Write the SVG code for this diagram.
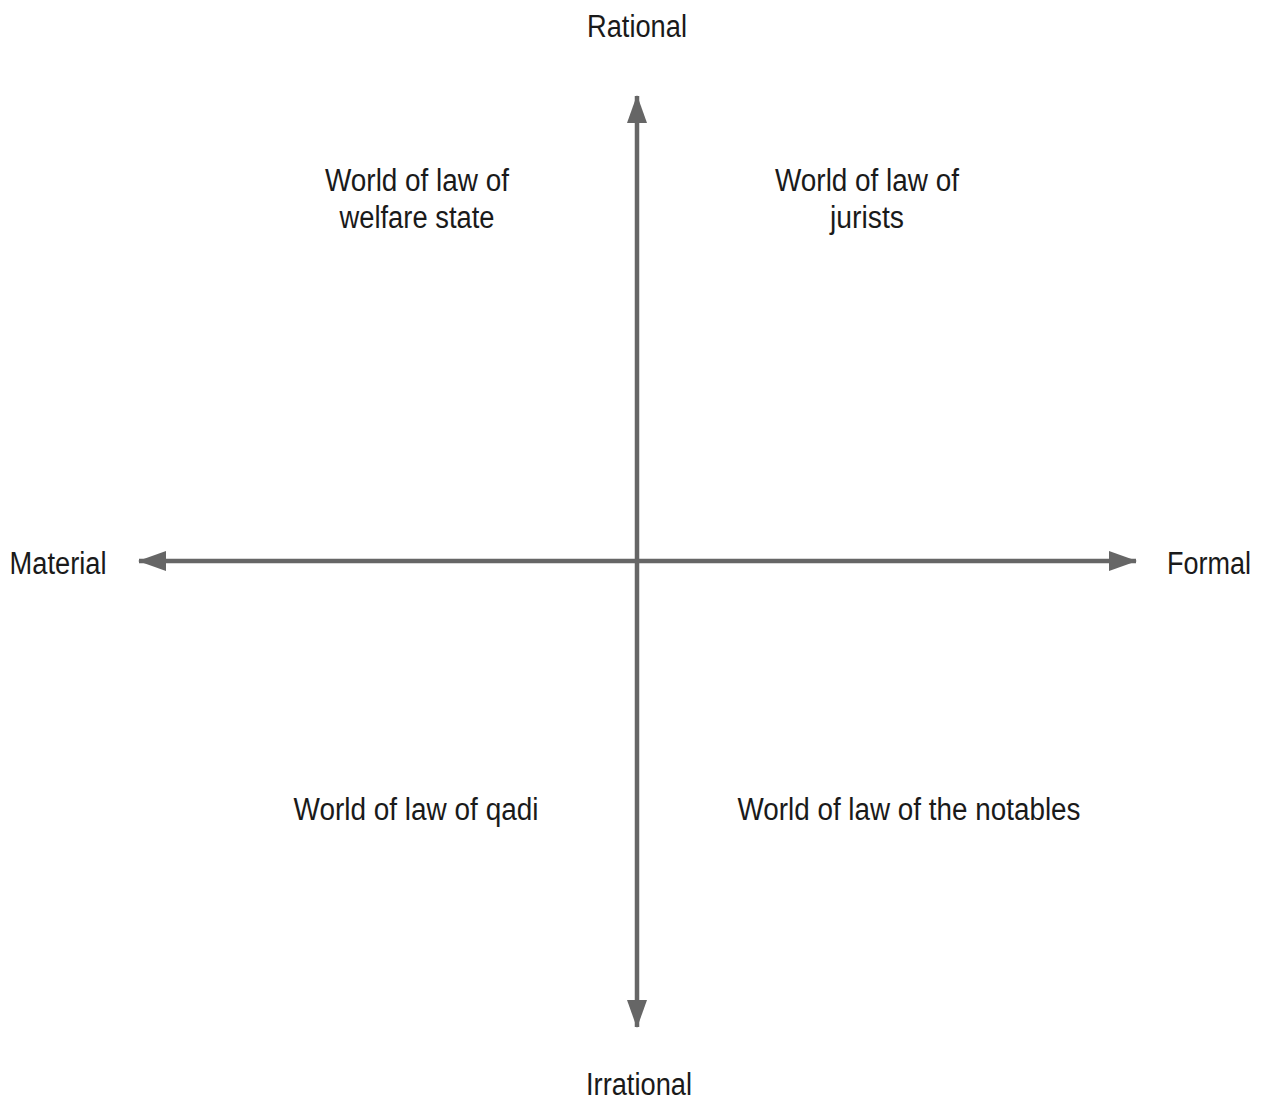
<svg xmlns="http://www.w3.org/2000/svg" width="1265" height="1103" viewBox="0 0 1265 1103">
<style>
text{font-family:"Liberation Sans",Arial,sans-serif;font-size:31px;fill:#1a1a1a;text-anchor:middle}
.axis{stroke:#666;stroke-width:4.5;fill:none}
</style>
<defs>
<marker id="ah" viewBox="0 0 28 20" refX="27" refY="10" markerWidth="28" markerHeight="20" markerUnits="userSpaceOnUse" orient="auto-start-reverse">
<path d="M0,0 L28,10 L0,20 Z" fill="#666"/>
</marker>
</defs>
<rect width="1265" height="1103" fill="#fff"/>
<g id="connectors">
<line class="axis" x1="637" y1="96" x2="637" y2="1027" marker-start="url(#ah)" marker-end="url(#ah)"/>
<line class="axis" x1="139" y1="561" x2="1136" y2="561" marker-start="url(#ah)" marker-end="url(#ah)"/>
</g>
<g id="rational"><text x="637" y="37" textLength="100" lengthAdjust="spacingAndGlyphs">Rational</text></g>
<g id="irrational"><text x="639" y="1095" textLength="106" lengthAdjust="spacingAndGlyphs">Irrational</text></g>
<g id="material"><text x="58" y="574" textLength="97" lengthAdjust="spacingAndGlyphs">Material</text></g>
<g id="formal"><text x="1209" y="574" textLength="84" lengthAdjust="spacingAndGlyphs">Formal</text></g>
<g id="welfare">
<text x="417" y="191" textLength="184" lengthAdjust="spacingAndGlyphs">World of law of</text>
<text x="417" y="228" textLength="155" lengthAdjust="spacingAndGlyphs">welfare state</text>
</g>
<g id="jurists">
<text x="867" y="191" textLength="184" lengthAdjust="spacingAndGlyphs">World of law of</text>
<text x="867" y="228" textLength="74" lengthAdjust="spacingAndGlyphs">jurists</text>
</g>
<g id="qadi"><text x="416" y="820" textLength="245" lengthAdjust="spacingAndGlyphs">World of law of qadi</text></g>
<g id="notables"><text x="909" y="820" textLength="343" lengthAdjust="spacingAndGlyphs">World of law of the notables</text></g>
</svg>
